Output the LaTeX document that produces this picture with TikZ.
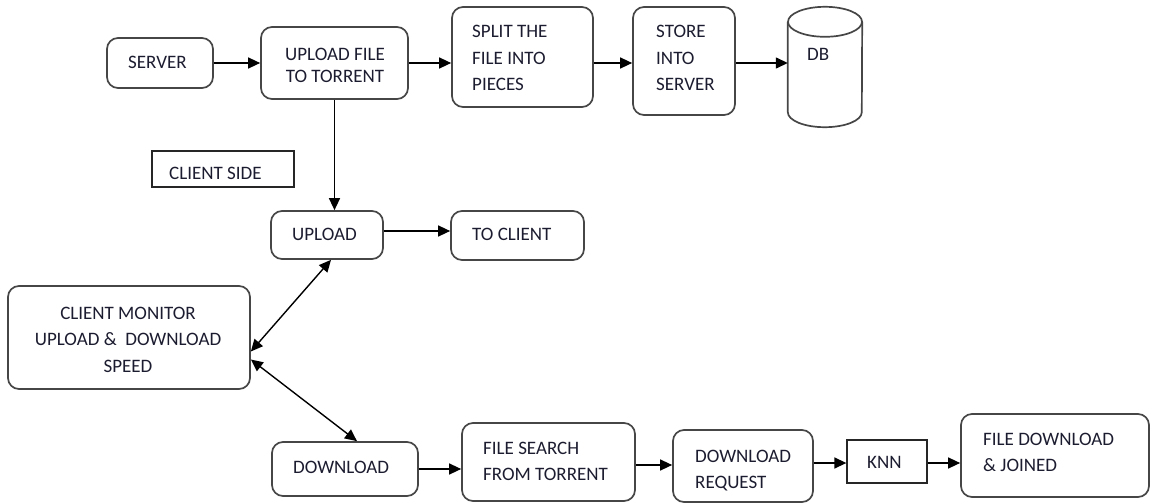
\documentclass[tikz,border=0pt]{standalone}
\usepackage{fontspec}
\setmainfont{Carlito}
\usetikzlibrary{arrows.meta,calc}
\definecolor{ink}{RGB}{28,28,48}
\definecolor{edge}{RGB}{70,70,70}
\tikzset{
  box/.style={draw=edge, line width=1.7pt, rounded corners=11pt, inner sep=0pt, minimum width=#1},
  plainbox/.style={draw=black!85, line width=1.3pt, inner sep=0pt, minimum width=#1},
  hole/.style={inner sep=0pt, minimum width=#1},
  txt/.style={inner sep=0pt, text=ink, font=\fontsize{19}{26.5}\selectfont},
  tip/.tip={Triangle[length=12pt,width=11pt]},
  flow/.style={line width=1.4pt, -tip},
  both/.style={line width=1.4pt, tip-tip},
}
\begin{document}
\begin{tikzpicture}[x=1pt,y=-1pt]
\useasboundingbox (0,0) rectangle (1151,503);

% server side row
\node[box=106pt, minimum height=50pt] (server) at (160,63) {};
\node[box=147pt, minimum height=72pt] (upfile) at (334.5,63) {};
\node[box=141pt, minimum height=100pt] (split) at (522.5,57) {};
\node[box=102pt, minimum height=108pt] (store) at (684,61) {};
\node[hole=74pt, minimum height=120pt] (db) at (825,67) {};
\draw[draw=edge, line width=1.7pt]
  ($(db.north west)+(0,15)$) -- ($(db.south west)+(0,-15)$)
  arc[start angle=180, end angle=360, x radius=37pt, y radius=15pt]
  -- ($(db.north east)+(0,15)$);
\draw[draw=edge, line width=1.7pt] ($(db.north)+(0,15)$) ellipse[x radius=37pt, y radius=15pt];

\node[txt, anchor=base west] (tserver) at (128,68) {SERVER};
\node[txt, anchor=base] (tupfile) at (335,60)
  {\fontsize{19}{22}\selectfont\begin{tabular}[t]{@{}c@{}}UPLOAD FILE\\TO TORRENT\end{tabular}};
\node[txt, anchor=base west] (tsplit) at (472,38)
  {\begin{tabular}[t]{@{}l@{}}SPLIT THE\\FILE INTO\\PIECES\end{tabular}};
\node[txt, anchor=base west] (tstore) at (656,38)
  {\begin{tabular}[t]{@{}l@{}}STORE\\INTO\\SERVER\end{tabular}};
\node[txt, anchor=base west] (tdb) at (807,61) {DB};

\draw[flow] (server.east) -- (server.east -| upfile.west);
\draw[flow] (upfile.east) -- (upfile.east -| split.west);
\draw[flow] (upfile.east -| split.east) -- (upfile.east -| store.west);
\draw[flow] (upfile.east -| store.east) -- (upfile.east -| db.west);

% client side
\node[plainbox=142pt, minimum height=36pt] (side) at (223,169) {};
\node[txt, anchor=base west] (tside) at (169,179) {CLIENT SIDE};

\node[box=112pt, minimum height=48pt] (upload) at (327,235) {};
\node[box=133pt, minimum height=49pt] (toclient) at (517.5,235.5) {};
\node[txt, anchor=base west] (tupload) at (292,240) {UPLOAD};
\node[txt, anchor=base west] (ttoclient) at (472,240) {TO CLIENT};

\draw[flow] (upfile.south) -- (upfile.south |- upload.north);
\draw[flow] ([yshift=4pt]upload.east) -- ([yshift=4pt]upload.east -| toclient.west);

\node[box=242pt, minimum height=103pt] (monitor) at (129,337.5) {};
\node[txt, anchor=base] (tmonitor) at (128,319)
  {\begin{tabular}[t]{@{}c@{}}CLIENT MONITOR\\UPLOAD \&\ \ DOWNLOAD\\SPEED\end{tabular}};

\node[box=146pt, minimum height=54pt] (download) at (345,469) {};
\node[txt, anchor=base west] (tdownload) at (293,473) {DOWNLOAD};

\draw[both] ([yshift=-14pt]monitor.east) -- ([xshift=4pt]upload.south);
\draw[both] ([yshift=-22pt]monitor.east) -- ([xshift=12pt]download.north);

% download chain
\node[box=173pt, minimum height=78pt] (search) at (548.5,462) {};
\node[box=140pt, minimum height=72pt] (request) at (743,466) {};
\node[plainbox=80pt, minimum height=43pt] (knn) at (887,461.5) {};
\node[box=188pt, minimum height=83pt] (joined) at (1055,455.5) {};

\node[txt, anchor=base west] (tsearch) at (483,454)
  {\begin{tabular}[t]{@{}l@{}}FILE SEARCH\\FROM TORRENT\end{tabular}};
\node[txt, anchor=base west] (trequest) at (695,462)
  {\begin{tabular}[t]{@{}l@{}}DOWNLOAD\\REQUEST\end{tabular}};
\node[txt, anchor=base west] (tknn) at (867,468) {KNN};
\node[txt, anchor=base west] (tjoined) at (983,445)
  {\begin{tabular}[t]{@{}l@{}}FILE DOWNLOAD\\\& JOINED\end{tabular}};

\draw[flow] (download.east) -- (download.east -| search.west);
\draw[flow] ([yshift=-3pt]search.east) -- ([yshift=-3pt]search.east -| request.west);
\draw[flow] ([yshift=-1.5pt]knn.west -| request.east) -- ([yshift=-1.5pt]knn.west);
\draw[flow] ([yshift=-1.5pt]knn.east) -- ([yshift=-1.5pt]knn.east -| joined.west);
\end{tikzpicture}
\end{document}
